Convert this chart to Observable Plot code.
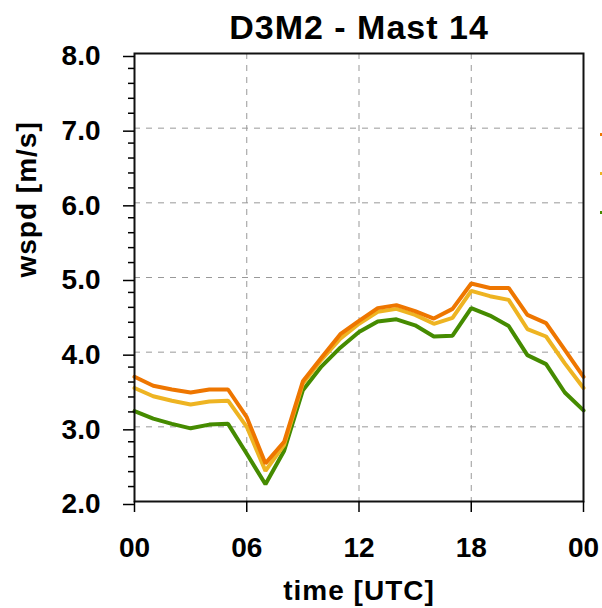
<!DOCTYPE html>
<html>
<head>
<meta charset="utf-8">
<script src="https://cdn.jsdelivr.net/npm/d3@7"></script>
<script src="https://cdn.jsdelivr.net/npm/@observablehq/plot@0.6"></script>
<style>
  html, body { margin: 0; padding: 0; background: #fff; }
  #chart { position: relative; width: 602px; height: 608px; overflow: hidden; }
  .leg { position: absolute; width: 2px; height: 3px; }
</style>
</head>
<body>
<div id="chart"></div>
<script>
const title = "D3M2 - Mast 14";
const xLabel = "time [UTC]";
const yLabel = "wspd [m/s]";

const hours = [0, 1, 2, 3, 4, 5, 6, 7, 8, 9, 10, 11, 12, 13, 14, 15, 16, 17, 18, 19, 20, 21, 22, 23, 24];
const seriesA = [3.67, 3.55, 3.50, 3.46, 3.50, 3.50, 3.13, 2.51, 2.80, 3.61, 3.93, 4.24, 4.42, 4.59, 4.63, 4.55, 4.45, 4.58, 4.92, 4.86, 4.86, 4.50, 4.39, 4.03, 3.67];
const seriesB = [3.52, 3.41, 3.35, 3.30, 3.34, 3.35, 3.00, 2.41, 2.76, 3.58, 3.90, 4.18, 4.38, 4.54, 4.58, 4.50, 4.38, 4.46, 4.82, 4.75, 4.70, 4.31, 4.21, 3.85, 3.52];
const seriesC = [3.21, 3.11, 3.04, 2.98, 3.03, 3.04, 2.64, 2.23, 2.68, 3.49, 3.81, 4.06, 4.27, 4.41, 4.44, 4.36, 4.21, 4.22, 4.59, 4.49, 4.35, 3.96, 3.84, 3.46, 3.22];

// drawing order: C (green) first, A (orange) on top
const seriesNames = ["C", "B", "A"];
const seriesColors = ["#458B00", "#EEB422", "#EE7600"];
const legendOrder = ["A", "B", "C"];

const xTicks = [0, 6, 12, 18, 24];
const xTickLabels = ["00", "06", "12", "18", "00"];
const yTicks = [2, 3, 4, 5, 6, 7, 8];
const yMinorTicks = [2.2, 2.4, 2.6, 2.8, 3.2, 3.4, 3.6, 3.8, 4.2, 4.4, 4.6, 4.8, 5.2, 5.4, 5.6, 5.8, 6.2, 6.4, 6.6, 6.8, 7.2, 7.4, 7.6, 7.8];

const valuesByName = {A: seriesA, B: seriesB, C: seriesC};
const rows = [];
for (const name of seriesNames) {
  valuesByName[name].forEach((v, i) => rows.push({series: name, hour: hours[i], wspd: v}));
}

const font = "'Liberation Sans', Arial, Helvetica, sans-serif";

const plot = Plot.plot({
  width: 602,
  height: 608,
  marginLeft: 134,
  marginRight: 19,
  marginTop: 53,
  marginBottom: 107,
  style: {fontFamily: font, fontWeight: "bold", fontSize: "28px", color: "#000", background: "#fff"},
  x: {domain: [0, 24]},
  y: {domain: [2, 8]},
  color: {type: "ordinal", domain: seriesNames, range: seriesColors},
  marks: [
    Plot.gridX([6, 12, 18], {stroke: "#999", strokeOpacity: 1, strokeWidth: 1, strokeDasharray: "6,6"}),
    Plot.gridY([3, 4, 5, 6, 7], {stroke: "#999", strokeOpacity: 1, strokeWidth: 1, strokeDasharray: "6,6"}),
    Plot.line(rows, {x: "hour", y: "wspd", z: "series", stroke: "series", strokeWidth: 4, strokeLinejoin: "miter"}),
    Plot.frame({stroke: "#111", strokeWidth: 2}),
    Plot.axisY(yMinorTicks, {tickSize: 6, strokeWidth: 1.5, tickFormat: () => "", label: null}),
    Plot.axisY(yTicks, {tickSize: 11, tickPadding: 23, strokeWidth: 1.5, tickFormat: d3.format(".1f"),
      fontSize: 28, fontWeight: "bold", dy: 3, label: null}),
    Plot.axisX(xTicks, {tickSize: 11, tickPadding: 25, strokeWidth: 1.5,
      tickFormat: d => xTickLabels[xTicks.indexOf(d)], fontSize: 28, fontWeight: "bold", label: null}),
    Plot.text([title], {frameAnchor: "top", lineAnchor: "bottom", dy: -15, fontSize: 34, fontWeight: "bold", fill: "#000"}),
    Plot.text([xLabel], {frameAnchor: "bottom", lineAnchor: "bottom", dy: 98, fontSize: 28, fontWeight: "bold", fill: "#000"}),
    Plot.text([yLabel], {frameAnchor: "left", lineAnchor: "bottom", rotate: -90, dx: -99, fontSize: 28, fontWeight: "bold", fill: "#000"})
  ]
});

plot.querySelectorAll("text").forEach(t => {
  const txt = t.textContent;
  if (txt === title || txt === xLabel || txt === yLabel) t.setAttribute("letter-spacing", "1");
});

const chart = document.getElementById("chart");
chart.appendChild(plot);

// cut-off legend markers at the right edge
const legendTops = {A: 133, B: 172, C: 211};
legendOrder.forEach(name => {
  const d = document.createElement("div");
  d.className = "leg";
  d.style.left = "600px";
  d.style.top = legendTops[name] + "px";
  d.style.background = seriesColors[seriesNames.indexOf(name)];
  chart.appendChild(d);
});
</script>
</body>
</html>
